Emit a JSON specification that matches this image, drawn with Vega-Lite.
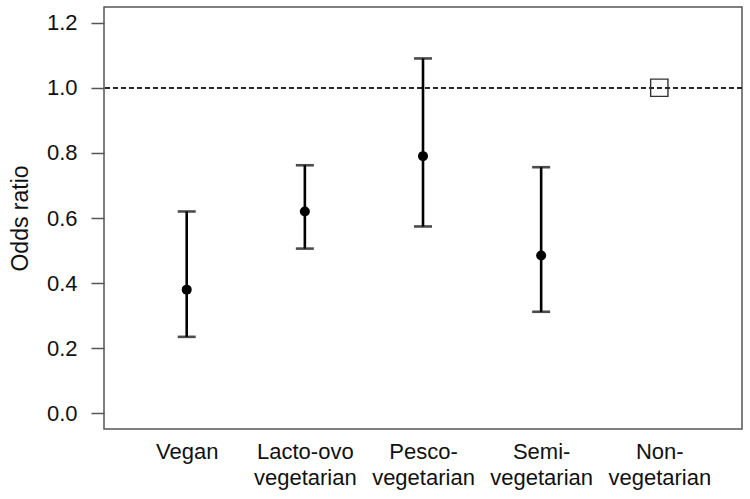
{
  "$schema": "https://vega.github.io/schema/vega-lite/v6.json",
  "width": 638,
  "height": 422,
  "autosize": {"type": "none"},
  "padding": {"left": 104, "top": 7, "right": 8, "bottom": 70},
  "background": "white",
  "config": {
    "font": "Liberation Sans",
    "view": {"stroke": "#555", "strokeWidth": 1.5},
    "axis": {"grid": false, "domain": false, "labelColor": "#111", "titleColor": "#111", "labelFont": "Liberation Sans", "titleFont": "Liberation Sans"}
  },
  "data": {
    "values": [
      {"diet": "Vegan", "or": 0.38, "lower": 0.235, "upper": 0.62},
      {"diet": "Lacto-ovo vegetarian", "or": 0.62, "lower": 0.506, "upper": 0.762},
      {"diet": "Pesco-vegetarian", "or": 0.79, "lower": 0.574, "upper": 1.09},
      {"diet": "Semi-vegetarian", "or": 0.485, "lower": 0.312, "upper": 0.756},
      {"diet": "Non-vegetarian", "or": 1.0, "lower": null, "upper": null}
    ]
  },
  "encoding": {
    "x": {
      "field": "diet",
      "type": "nominal",
      "sort": null,
      "scale": {"type": "point", "padding": 0.7},
      "axis": {
        "title": null,
        "ticks": false,
        "labelAngle": 0,
        "labelFontSize": 22,
        "labelPadding": 12,
        "labelLineHeight": 26,
        "labelExpr": "datum.label == 'Vegan' ? 'Vegan' : datum.label == 'Lacto-ovo vegetarian' ? ['Lacto-ovo', 'vegetarian'] : [replace(datum.label, 'vegetarian', ''), 'vegetarian']"
      }
    }
  },
  "layer": [
    {
      "mark": {"type": "rule", "strokeDash": [5, 3], "strokeWidth": 1.4, "color": "#222"},
      "encoding": {"y": {"datum": 1}, "x": null}
    },
    {
      "transform": [{"filter": "isValid(datum.lower)"}],
      "mark": {"type": "rule", "strokeWidth": 2.6, "color": "#000"},
      "encoding": {
        "y": {
          "field": "lower",
          "type": "quantitative",
          "scale": {"domain": [-0.048, 1.248], "nice": false, "zero": false},
          "axis": {
            "title": "Odds ratio",
            "values": [0, 0.2, 0.4, 0.6, 0.8, 1.0, 1.2],
            "format": ".1f",
            "tickSize": 13,
            "tickColor": "#555",
            "tickWidth": 1.5,
            "labelPadding": 14,
            "labelFontSize": 22,
            "titleFontSize": 23,
            "titleFontWeight": "normal",
            "titlePadding": 14
          }
        },
        "y2": {"field": "upper"}
      }
    },
    {
      "transform": [{"filter": "isValid(datum.lower)"}],
      "mark": {"type": "tick", "size": 18, "thickness": 2.6, "color": "#000"},
      "encoding": {"y": {"field": "lower", "type": "quantitative"}}
    },
    {
      "transform": [{"filter": "isValid(datum.upper)"}],
      "mark": {"type": "tick", "size": 18, "thickness": 2.6, "color": "#000"},
      "encoding": {"y": {"field": "upper", "type": "quantitative"}}
    },
    {
      "transform": [{"filter": "isValid(datum.lower)"}],
      "mark": {"type": "point", "shape": "circle", "filled": true, "size": 100, "color": "#000", "opacity": 1},
      "encoding": {"y": {"field": "or", "type": "quantitative"}}
    },
    {
      "transform": [{"filter": "!isValid(datum.lower)"}],
      "mark": {"type": "point", "shape": "square", "filled": false, "size": 300, "color": "#333", "strokeWidth": 1.4, "opacity": 1},
      "encoding": {"y": {"field": "or", "type": "quantitative"}}
    }
  ]
}
